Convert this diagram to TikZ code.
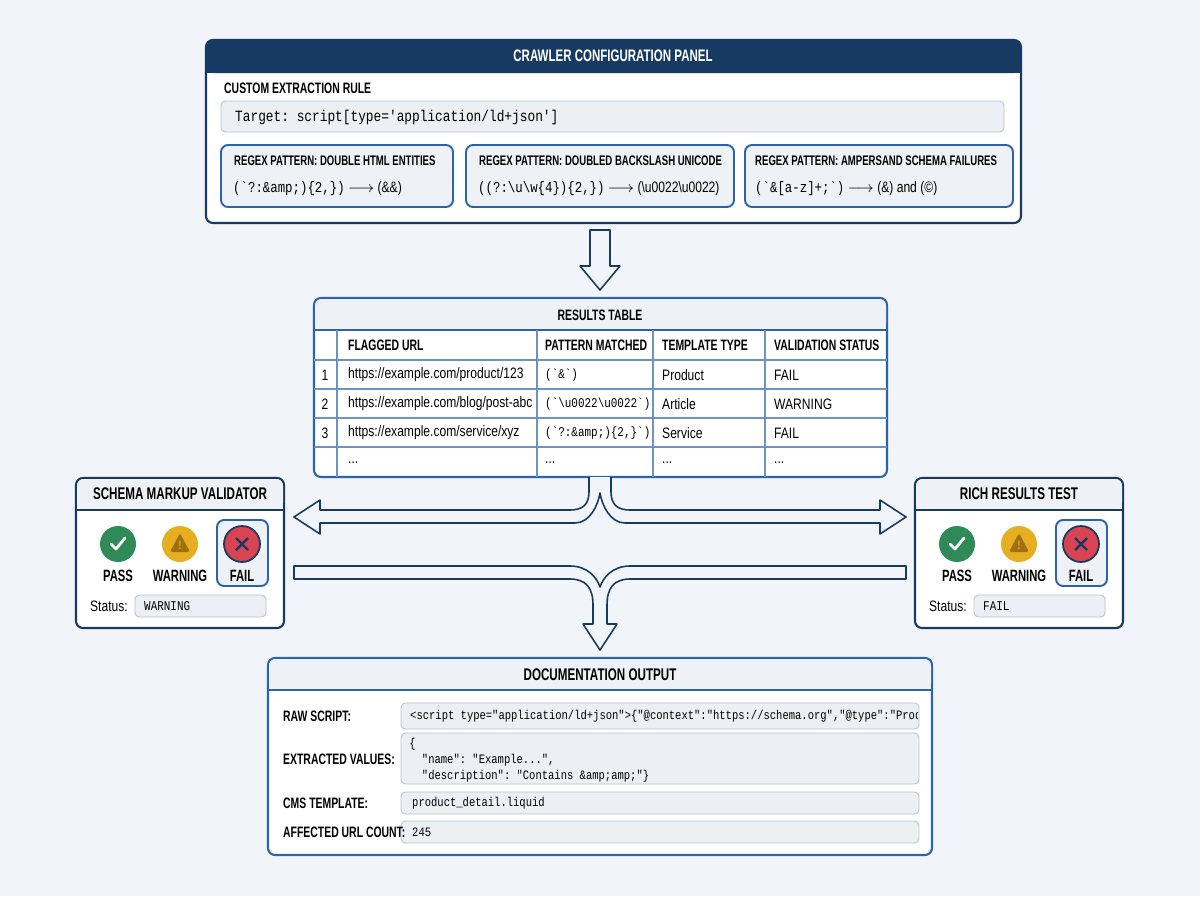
\documentclass[tikz,border=0pt]{standalone}
\usepackage{fontspec}
\setmainfont{Liberation Sans}[FakeStretch=0.8, BoldFeatures={FakeStretch=0.69}]
\setmonofont{Liberation Mono}[FakeStretch=0.82]
\usepackage{amsmath}
\usepackage{tikz}

\definecolor{navy}{HTML}{173A63}
\definecolor{frame}{HTML}{2D63AD}
\definecolor{canvas}{HTML}{F1F4F8}
\definecolor{headfill}{HTML}{EEF2F7}
\definecolor{fieldfill}{HTML}{ECEFF3}
\definecolor{fieldline}{HTML}{B9C2CE}
\definecolor{passgreen}{HTML}{2E8B57}
\definecolor{warnamber}{HTML}{E6AF22}
\definecolor{warndark}{HTML}{A06F10}
\definecolor{failred}{HTML}{D94452}

\tikzset{
  panel/.style={draw=navy, line width=1.2pt, fill=white, rounded corners=4pt},
  patbox/.style={draw=frame, line width=1.1pt, fill=headfill, rounded corners=4pt},
  field/.style={draw=fieldline, line width=0.5pt, fill=fieldfill, rounded corners=2.5pt},
  title/.style={font=\fontsize{8.6}{10}\selectfont\bfseries},
  pattitle/.style={font=\fontsize{7.9}{10}\selectfont\bfseries, anchor=west},
  body/.style={font=\fontsize{8.6}{10}\selectfont},
  code/.style={font=\fontsize{7.6}{10}\selectfont\ttfamily},
  blockarrow/.style={draw=navy, line width=0.9pt, fill=canvas, line join=round},
  tab/.style={draw=frame!70, line width=0.6pt},
}

\begin{document}
\begin{tikzpicture}[x=0.02cm, y=-0.02cm]
  % Background
  \fill[canvas] (0,0) rectangle (1200,896);
  \useasboundingbox (0,0) rectangle (1200,896);

  % Crawler configuration panel
  \draw[panel] (206,40) rectangle (1021,223);
  \fill[navy, rounded corners=4pt] (206,40) rectangle (1021,73);
  \fill[navy] (206,60) rectangle (1021,73);
  \node[title, text=white, font=\fontsize{9.5}{11}\selectfont\bfseries] (cfgtitle) at (613,56) {CRAWLER CONFIGURATION PANEL};
  \node[title, anchor=west] (rulelbl) at (218,88) {CUSTOM EXTRACTION RULE};
  \draw[field] (221,101) rectangle (1004,132);
  \node[code, anchor=west, font=\fontsize{8.9}{11}\selectfont\ttfamily] (target) at (229,117) {Target: script[type='application/ld+json']};

  % Regex patterns
  \draw[patbox] (221,145) rectangle (453,207);
  \node[pattitle] (pat1) at (228,161) {REGEX PATTERN: DOUBLE HTML ENTITIES};
  \node[body, anchor=west, font=\fontsize{8.6}{11}\selectfont] (pat1val) at (227,189) {{\ttfamily (`?:\&amp;)\{2,\})} $\longrightarrow$ (\&\&)};
  \draw[patbox] (466,145) rectangle (734,207);
  \node[pattitle] (pat2) at (473,161) {REGEX PATTERN: DOUBLED BACKSLASH UNICODE};
  \node[body, anchor=west, font=\fontsize{8.6}{11}\selectfont] (pat2val) at (472,189) {{\ttfamily ((?:\textbackslash u\textbackslash w\{4\})\{2,\})} $\longrightarrow$ (\textbackslash u0022\textbackslash u0022)};
  \draw[patbox] (745,145) rectangle (1013,207);
  \node[pattitle] (pat3) at (749,161) {REGEX PATTERN: AMPERSAND SCHEMA FAILURES};
  \node[body, anchor=west, font=\fontsize{8.6}{11}\selectfont] (pat3val) at (749,189) {{\ttfamily (`\&[a-z]+;`)} $\longrightarrow$ (\&) and (\textcopyright)};

  % Down arrow
  \draw[blockarrow] (590,230) -- (610,230) -- (610,266) -- (620,266) -- (600,290) -- (580,266) -- (590,266) -- cycle;

  % Results table
  \draw[panel, draw=frame] (314,298) rectangle (887,477);
  \fill[headfill, rounded corners=4pt] (315,299) rectangle (886,330);
  \draw[tab, draw=frame, line width=1pt] (314,330) -- (887,330);
  \node[title] (restitle) at (600,315) {RESULTS TABLE};
  \foreach \y in {360,389,418,447} \draw[tab] (314,\y) -- (887,\y);
  \foreach \x in {337,537,653,765} \draw[tab] (\x,330) -- (\x,477);
  \node[title, anchor=west] at (342,345) {FLAGGED URL};
  \node[title, anchor=west] at (539,345) {PATTERN MATCHED};
  \node[title, anchor=west] at (656,345) {TEMPLATE TYPE};
  \node[title, anchor=west] at (768,345) {VALIDATION STATUS};
  \foreach \n/\y/\url/\pat/\tpl/\st in {
      1/375/product\slash 123/{(`\&`)}/Product/FAIL,
      2/404/blog\slash post-abc/{(`\textbackslash u0022\textbackslash u0022`)}/Article/WARNING,
      3/433/service\slash xyz/{(`?:\&amp;)\{2,\}`)}/Service/FAIL} {
    \node[body] at (325,\y) {\n};
    \node[body, anchor=west] at (342,\y) {https://example.com/\url};
    \node[code, anchor=west] at (539,\y) {\pat};
    \node[body, anchor=west] at (656,\y) {\tpl};
    \node[body, anchor=west] at (768,\y) {\st};
  }
  \foreach \x in {342,539,656,768} \node[body, anchor=west] at (\x,463) {...};

  % Split arrow to the validators
  \draw[blockarrow] (589,477) -- (589,492) .. controls (589,505) and (582,510) .. (570,510)
    -- (320,510) -- (320,500) -- (294,517) -- (320,534) -- (320,523) -- (575,523)
    .. controls (590,523) and (598,505) .. (600,493) .. controls (602,505) and (610,523) .. (625,523)
    -- (880,523) -- (880,534) -- (906,517) -- (880,500) -- (880,510) -- (630,510)
    .. controls (618,510) and (611,505) .. (611,492) -- (611,477);

  % Merge arrow to the documentation
  \draw[blockarrow] (294,566) -- (570,566) .. controls (588,566) and (597,578) .. (600,587)
    .. controls (603,578) and (612,566) .. (630,566) -- (906,566) -- (906,579) -- (630,579)
    .. controls (614,579) and (607,588) .. (607,605) -- (607,624) -- (617,624) -- (600,650)
    -- (583,624) -- (593,624) -- (593,605) .. controls (593,588) and (586,579) .. (570,579)
    -- (294,579) -- cycle;

  % Validator panels
  \foreach \px/\name/\stat in {76/SCHEMA MARKUP VALIDATOR/WARNING, 915/RICH RESULTS TEST/FAIL} {
    \draw[panel] (\px,478) rectangle ({\px+208},628);
    \fill[headfill, rounded corners=4pt] ({\px+1},479) rectangle ({\px+207},510);
    \draw[navy, line width=0.8pt] (\px,510) -- ({\px+208},510);
    \node[title, font=\fontsize{9.6}{11}\selectfont\bfseries] at ({\px+104},494) {\name};
    % status icons
    \fill[passgreen] ({\px+42},544) circle (18);
    \draw[white, line width=1.6pt, line cap=round, line join=round] ({\px+35},544) -- ({\px+40},549) -- ({\px+49},538);
    \fill[warnamber] ({\px+104},544) circle (18);
    \fill[warndark, rounded corners=1pt] ({\px+104},533) -- ({\px+114},552) -- ({\px+94},552) -- cycle;
    \node[font=\fontsize{7}{8}\selectfont\bfseries, text=warnamber] at ({\px+104},545) {!};
    \draw[frame, line width=1.1pt, fill=headfill, rounded corners=4pt] ({\px+141},520) rectangle ({\px+192},586);
    \draw[navy, fill=failred, line width=1pt] ({\px+166},544) circle (18);
    \draw[navy, line width=1.4pt] ({\px+160},538) -- ({\px+172},550) ({\px+160},550) -- ({\px+172},538);
    \node[title, font=\fontsize{9.3}{11}\selectfont\bfseries] at ({\px+42},576) {PASS};
    \node[title, font=\fontsize{9.3}{11}\selectfont\bfseries] at ({\px+104},576) {WARNING};
    \node[title, font=\fontsize{9.3}{11}\selectfont\bfseries] at ({\px+166},576) {FAIL};
    \node[body, anchor=east] at ({\px+58},606) {Status:};
    \draw[field] ({\px+59},595) rectangle ({\px+190},617);
    \node[code, anchor=west] at ({\px+62},606) {\stat};
  }

  % Documentation output
  \draw[panel, draw=frame] (268,658) rectangle (932,855);
  \fill[headfill, rounded corners=4pt] (269,659) rectangle (931,690);
  \draw[frame, line width=1pt] (268,690) -- (932,690);
  \node[title, font=\fontsize{9.6}{11}\selectfont\bfseries] (doctitle) at (600,675) {DOCUMENTATION OUTPUT};
  \draw[field] (401,703) rectangle (919,729);
  \node[title, anchor=west] (rawlbl) at (277,716) {RAW SCRIPT:};
  \begin{scope}
    \clip (401,703) rectangle (917,729);
    \node[code, anchor=west, font=\fontsize{7.3}{9}\selectfont\ttfamily] (rawval) at (404,716) {<script type="application/ld+json">\{"@context":"https://schema.org","@type":"Product"\}};
  \end{scope}
  \draw[field] (401,733) rectangle (919,784);
  \node[title, anchor=west] (extlbl) at (277,759) {EXTRACTED VALUES:};
  \node[code, anchor=north west, align=left, inner sep=0pt, font=\fontsize{7.3}{9.2}\selectfont\ttfamily] (extval) at (409,738) {\{\\
  \ \ "name": "Example...",\\
  \ \ "description": "Contains \&amp;amp;"\}};
  \draw[field] (401,792) rectangle (919,814);
  \node[title, anchor=west] (cmslbl) at (277,803) {CMS TEMPLATE:};
  \node[code, anchor=west, font=\fontsize{7.3}{9}\selectfont\ttfamily] (cmsval) at (406,803) {product\_detail.liquid};
  \draw[field] (401,821) rectangle (919,843);
  \node[title, anchor=west] (urllbl) at (277,832) {AFFECTED URL COUNT:};
  \node[code, anchor=west, font=\fontsize{7.3}{9}\selectfont\ttfamily] (urlval) at (406,832) {245};
\end{tikzpicture}
\end{document}
